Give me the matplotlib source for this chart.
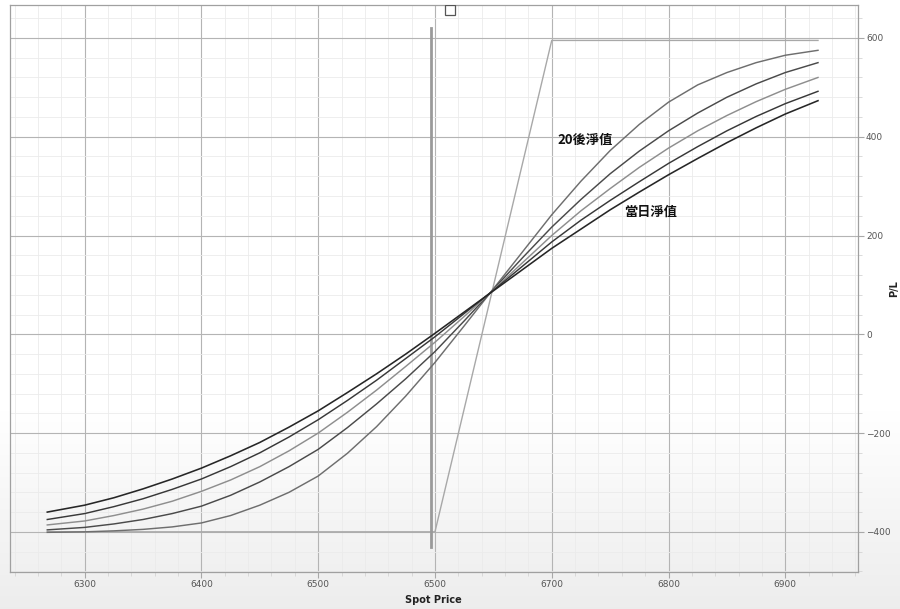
import matplotlib
matplotlib.use('Agg')
import matplotlib.pyplot as plt
import numpy as np
from matplotlib.ticker import MultipleLocator

spot = [6268, 6300, 6325, 6350, 6375, 6400, 6425, 6450, 6475, 6500, 6525, 6550, 6575,
        6600, 6625, 6650, 6675, 6700, 6725, 6750, 6775, 6800, 6825, 6850, 6875, 6900, 6928]

# P/L curves, from today (flattest) to 20 days later (steepest)
pl_today = [-360, -346, -331, -313, -293, -271, -246, -219, -188, -155, -118, -80, -40,
            2, 45, 88, 131, 174, 213, 252, 288, 323, 356, 388, 418, 446, 473]
pl_5 = [-375, -363, -349, -333, -314, -293, -268, -240, -208, -173, -134, -93, -49,
        -5, 42, 89, 138, 187, 231, 271, 309, 346, 380, 412, 441, 467, 492]
pl_10 = [-386, -378, -367, -354, -338, -318, -295, -268, -236, -200, -158, -113, -65,
         -16, 36, 90, 145, 200, 250, 295, 338, 377, 412, 443, 471, 496, 520]
pl_15 = [-396, -391, -384, -375, -363, -348, -326, -299, -268, -233, -189, -141, -90,
         -35, 27, 91, 155, 217, 273, 325, 371, 412, 448, 480, 507, 530, 550]
pl_20 = [-401, -400, -398, -395, -390, -382, -367, -346, -320, -287, -241, -187, -125,
         -57, 17, 92, 167, 242, 310, 372, 425, 470, 505, 530, 550, 565, 575]

# expiry payoff
payoff_x = [6268, 6600, 6700, 6928]
payoff_y = [-400, -400, 595, 595]

spot_now = 6597
spot_line = [-430, 620]

xtick_vals = [6300, 6400, 6500, 6600, 6700, 6800, 6900]
xtick_labels = ['6300', '6400', '6500', '6500', '6700', '6800', '6900']
ytick_vals = [-400, -200, 0, 200, 400, 600]

fig = plt.figure(figsize=(9, 6.09), dpi=100)

# soft grey fade toward the bottom
bg = fig.add_axes([0, 0, 1, 1], zorder=0)
rows = np.arange(609)
shade = np.where(rows < 400, 1.0, 1.0 - 0.075 * (rows - 400) / 209.0)
bg.imshow(shade.reshape(-1, 1), cmap='gray', vmin=0, vmax=1, aspect='auto',
          extent=[0, 1, 0, 1])
bg.axis('off')

ax = fig.add_axes([0.011, 0.061, 0.942, 0.931], zorder=1)
ax.set_facecolor('none')

ax.plot(payoff_x, payoff_y, color='#a8a8a8', lw=1.0, zorder=3)
ax.plot([spot_now, spot_now], spot_line, color='#9a9a9a', lw=2.0, zorder=3)

ax.plot(spot, pl_20, color='#6e6e6e', lw=1.05, zorder=4)
ax.plot(spot, pl_15, color='#4a4a4a', lw=1.05, zorder=4)
ax.plot(spot, pl_10, color='#8e8e8e', lw=1.05, zorder=4)
ax.plot(spot, pl_5, color='#383838', lw=1.05, zorder=4)
ax.plot(spot, pl_today, color='#262626', lw=1.15, zorder=4)

ax.plot([6613], [657], marker='s', ms=7, mfc='white', mec='#555555', mew=0.9, zorder=5)

cjk = ['Noto Sans CJK TC', 'DejaVu Sans']
ax.text(6729, 393, '20後淨值', family=cjk, fontsize=9.5, fontweight='bold',
        ha='center', va='center', color='#111111', zorder=6)
ax.text(6785, 248, '當日淨值', family=cjk, fontsize=9.5, fontweight='bold',
        ha='center', va='center', color='#111111', zorder=6)

ax.set_xlim(6236, 6962)
ax.set_ylim(-481, 667)

ax.set_xticks(xtick_vals)
ax.set_xticklabels(xtick_labels)
ax.set_yticks(ytick_vals)
ax.xaxis.set_minor_locator(MultipleLocator(20))
ax.yaxis.set_minor_locator(MultipleLocator(40))
ax.yaxis.tick_right()

ax.tick_params(axis='both', which='major', length=4, color='#a8a8a8',
               labelsize=6.5, labelcolor='#555555', pad=2)
ax.tick_params(axis='both', which='minor', length=3, color='#d4d4d4')

ax.set_axisbelow(True)
ax.grid(which='major', color='#b4b4b4', lw=0.8)
ax.grid(which='minor', color='#ebebeb', lw=0.6)

for s in ax.spines.values():
    s.set_color('#a0a0a0')
    s.set_linewidth(0.9)

ax.set_xlabel('Spot Price', fontsize=7, fontweight='bold', color='#222222', labelpad=4)
ax.set_ylabel('P/L', fontsize=7, fontweight='bold', color='#222222', rotation=90)
ax.yaxis.set_label_position('right')
ax.yaxis.set_label_coords(1.037, 0.5)

fig.savefig('out.png', dpi=100)
